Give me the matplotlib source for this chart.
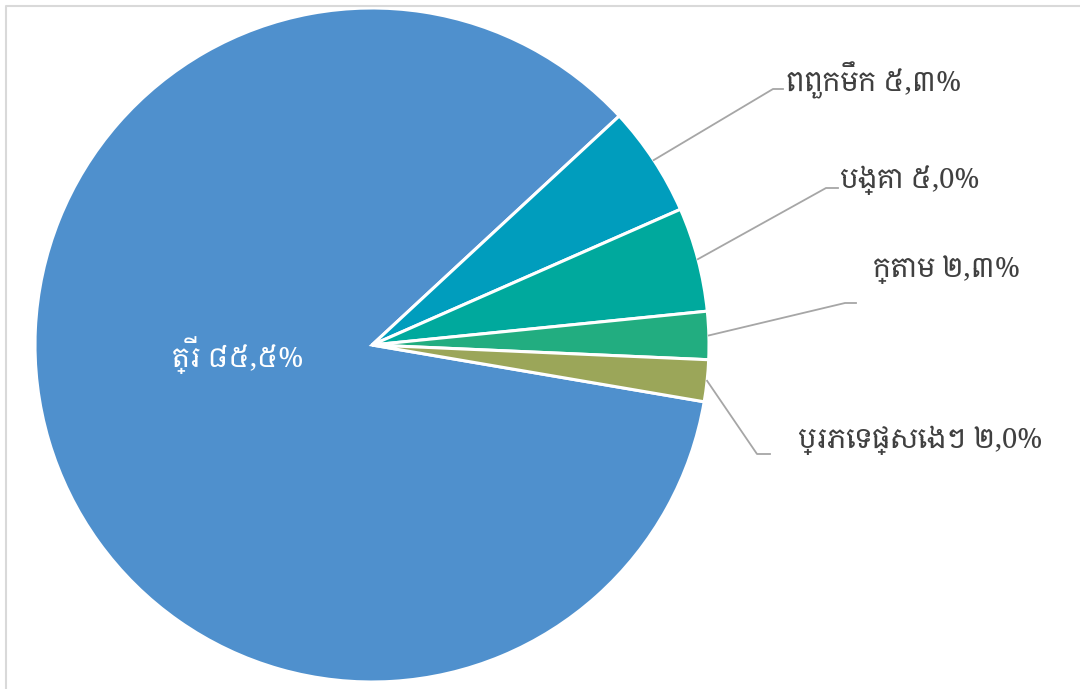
import matplotlib
matplotlib.use("Agg")
from matplotlib import pyplot as plt
from matplotlib import font_manager, ft2font
import numpy as np

# szukamy czcionki z glifami khmerskimi, najlepiej "Khmer" w nazwie i nie mono
def znajdz_czcionke():
    kandydaci = []
    for f in font_manager.fontManager.ttflist:
        try:
            cmap = ft2font.FT2Font(f.fname).get_charmap()
        except Exception:
            continue
        if 0x1780 in cmap and 0x17D2 in cmap:
            punkty = 0
            if 'khmer' in f.name.lower():
                punkty += 10
            if 'mono' in f.name.lower() or 'unifont' in f.name.lower():
                punkty -= 10
            if f.weight in (400, 'normal', 'regular'):
                punkty += 1
            kandydaci.append((punkty, f.name))
    if not kandydaci:
        return None
    kandydaci.sort(reverse=True)
    return kandydaci[0][1]

khmer = znajdz_czcionke()
rodziny = ([khmer] if khmer else []) + ['DejaVu Sans']
plt.rcParams['font.family'] = rodziny

nazwy = ["ត្រី", "ពពួកមឹក", "បង្គា", "ក្តាម", "ប្រភេទផ្សេងៗ"]
wartosci = [85.5, 5.3, 5.0, 2.3, 2.0]
etykiety = ["៨៥,៥%", "៥,៣%", "៥,0%", "២,៣%", "២,0%"]
kolory = ['#4F90CD', '#009DBD', '#00A99D', '#22AD80', '#9BA659']

W, H = 1080, 689
fig = plt.figure(figsize=(W / 100, H / 100), dpi=100)
ax = fig.add_axes([0, 0, 1, 1])

# środek i promień koła w pikselach (y od góry)
cx, cy, r = 372, 345, 337
wedges, _ = ax.pie(wartosci, colors=kolory, startangle=-9.7,
                   counterclock=False, center=(cx, H - cy), radius=r,
                   wedgeprops=dict(edgecolor='white', linewidth=2.2))
ax.set_xlim(0, W)
ax.set_ylim(0, H)
ax.set_aspect('auto')
ax.axis('off')

# ramka wykresu
ax.plot([6, 6, W + 5], [-5, H - 6, H - 6], color='#D9D9D9', lw=1.5,
        solid_capstyle='butt')

# etykieta w środku
ax.text(238, H - 355, nazwy[0] + " " + etykiety[0], color='white',
        fontsize=20, ha='center', va='center')

# etykiety z liniami
lokacje = {
    1: ((773, 89), (783, 89), (786, 80)),
    2: ((826, 188), (838, 188), (840, 180)),
    3: ((845, 303), (856, 303), (873, 270)),
    4: ((757, 454), (770, 454), (798, 440)),
}
teksty = []
for i, (kolano, koniec, tekst) in lokacje.items():
    w = wedges[i]
    kat = np.deg2rad((w.theta1 + w.theta2) / 2)
    x0 = cx + r * np.cos(kat)
    y0 = cy - r * np.sin(kat)
    ax.plot([x0, kolano[0], koniec[0]],
            [H - y0, H - kolano[1], H - koniec[1]],
            color='#A6A6A6', lw=1.3)
    t = ax.text(tekst[0], H - tekst[1], nazwy[i] + " " + etykiety[i],
                color='#404040', fontsize=20, ha='left', va='center')
    teksty.append(t)

# zmniejszamy czcionkę, jeśli tekst wychodzi poza obraz
fig.canvas.draw()
rend = fig.canvas.get_renderer()
for t in teksty:
    while t.get_window_extent(rend).x1 > W - 8 and t.get_fontsize() > 8:
        t.set_fontsize(t.get_fontsize() - 1)

plt.savefig('out.png', dpi=100)
